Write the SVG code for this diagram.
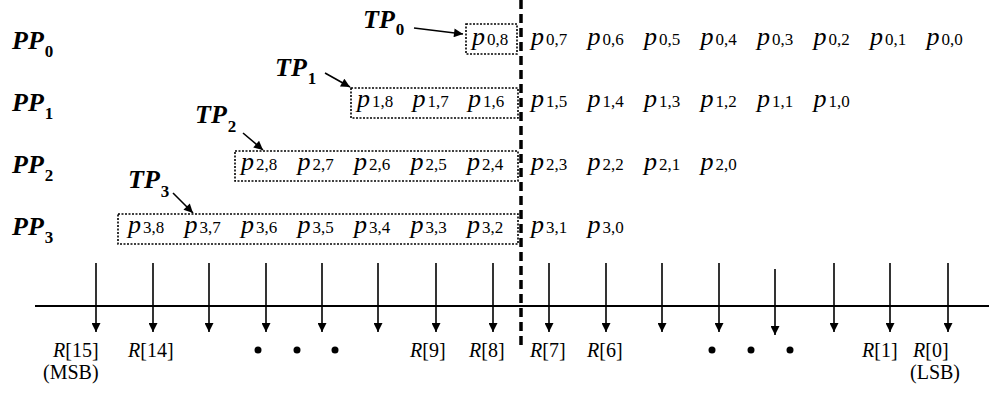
<svg xmlns="http://www.w3.org/2000/svg" width="989" height="417" viewBox="0 0 989 417" font-family="Liberation Serif">
<style>
text{font-family:'Liberation Serif','Times New Roman',serif;fill:#000}
.lbl{font-size:26px;font-weight:bold;font-style:italic}
.lsub{font-size:17px;font-weight:bold;font-style:normal}
.p{font-size:26px;font-style:italic}
.ps{font-size:17px;font-style:normal}
.r{font-size:20px}
.ri{font-style:italic}
.box{fill:none;stroke:#000;stroke-width:1.6;stroke-dasharray:2 1.5}
.ln{stroke:#000;stroke-width:1.6;fill:none}
.bus{stroke:#000;stroke-width:2;fill:none}
.div{stroke:#000;stroke-width:3.5;stroke-dasharray:9 5;fill:none}
</style>
<defs>
<marker id="ah" viewBox="0 0 10 10" refX="10" refY="5" markerWidth="10" markerHeight="9" markerUnits="userSpaceOnUse" orient="auto">
<path d="M0,0 L10,5 L0,10 z" fill="#000"/>
</marker>
<marker id="av" viewBox="0 0 10 10" refX="10" refY="5" markerWidth="11" markerHeight="9" markerUnits="userSpaceOnUse" orient="auto">
<path d="M0,0 L10,5 L0,10 z" fill="#000"/>
</marker>
</defs>
<rect width="989" height="417" fill="#fff"/>

<g id="divider"><line class="div" x1="521" y1="0" x2="521" y2="350"/></g>

<g id="row0">
<text class="lbl" x="12" y="49">PP<tspan class="lsub" dx="1" y="57">0</tspan></text>
<rect class="box" x="466" y="24" width="51" height="30"/>
<text class="p" y="45"><tspan x="472">p</tspan><tspan class="ps" x="487">0,8</tspan><tspan x="531">p</tspan><tspan class="ps" x="546">0,7</tspan><tspan x="587.5">p</tspan><tspan class="ps" x="602.5">0,6</tspan><tspan x="644">p</tspan><tspan class="ps" x="659">0,5</tspan><tspan x="700.5">p</tspan><tspan class="ps" x="715.5">0,4</tspan><tspan x="757">p</tspan><tspan class="ps" x="772">0,3</tspan><tspan x="813.5">p</tspan><tspan class="ps" x="828.5">0,2</tspan><tspan x="870">p</tspan><tspan class="ps" x="885">0,1</tspan><tspan x="926.5">p</tspan><tspan class="ps" x="941.5">0,0</tspan></text>
</g>

<g id="row1">
<text class="lbl" x="12" y="111">PP<tspan class="lsub" dx="1" y="119">1</tspan></text>
<rect class="box" x="351" y="88" width="167" height="30"/>
<text class="p" y="107"><tspan x="357">p</tspan><tspan class="ps" x="372">1,8</tspan><tspan x="412.5">p</tspan><tspan class="ps" x="427.5">1,7</tspan><tspan x="468">p</tspan><tspan class="ps" x="483">1,6</tspan><tspan x="531">p</tspan><tspan class="ps" x="546">1,5</tspan><tspan x="587.5">p</tspan><tspan class="ps" x="602.5">1,4</tspan><tspan x="644">p</tspan><tspan class="ps" x="659">1,3</tspan><tspan x="700.5">p</tspan><tspan class="ps" x="715.5">1,2</tspan><tspan x="757">p</tspan><tspan class="ps" x="772">1,1</tspan><tspan x="813.5">p</tspan><tspan class="ps" x="828.5">1,0</tspan></text>
</g>

<g id="row2">
<text class="lbl" x="12" y="173">PP<tspan class="lsub" dx="1" y="181">2</tspan></text>
<rect class="box" x="235" y="151" width="283" height="30"/>
<text class="p" y="170"><tspan x="241">p</tspan><tspan class="ps" x="256">2,8</tspan><tspan x="297.5">p</tspan><tspan class="ps" x="312.5">2,7</tspan><tspan x="354">p</tspan><tspan class="ps" x="369">2,6</tspan><tspan x="410.5">p</tspan><tspan class="ps" x="425.5">2,5</tspan><tspan x="467">p</tspan><tspan class="ps" x="482">2,4</tspan><tspan x="531">p</tspan><tspan class="ps" x="546">2,3</tspan><tspan x="587.5">p</tspan><tspan class="ps" x="602.5">2,2</tspan><tspan x="644">p</tspan><tspan class="ps" x="659">2,1</tspan><tspan x="700.5">p</tspan><tspan class="ps" x="715.5">2,0</tspan></text>
</g>

<g id="row3">
<text class="lbl" x="12" y="235">PP<tspan class="lsub" dx="1" y="243">3</tspan></text>
<rect class="box" x="118" y="214" width="400" height="30"/>
<text class="p" y="233"><tspan x="128">p</tspan><tspan class="ps" x="143">3,8</tspan><tspan x="184.5">p</tspan><tspan class="ps" x="199.5">3,7</tspan><tspan x="241">p</tspan><tspan class="ps" x="256">3,6</tspan><tspan x="297.5">p</tspan><tspan class="ps" x="312.5">3,5</tspan><tspan x="354">p</tspan><tspan class="ps" x="369">3,4</tspan><tspan x="410.5">p</tspan><tspan class="ps" x="425.5">3,3</tspan><tspan x="467">p</tspan><tspan class="ps" x="482">3,2</tspan><tspan x="531">p</tspan><tspan class="ps" x="546">3,1</tspan><tspan x="587.5">p</tspan><tspan class="ps" x="602.5">3,0</tspan></text>
</g>

<g id="tp0"><text class="lbl" x="363" y="28">TP<tspan class="lsub" dx="1" y="35">0</tspan></text></g>
<g id="tp1"><text class="lbl" x="275" y="76">TP<tspan class="lsub" dx="1" y="84">1</tspan></text></g>
<g id="tp2"><text class="lbl" x="195" y="123">TP<tspan class="lsub" dx="1" y="132">2</tspan></text></g>
<g id="tp3"><text class="lbl" x="128" y="188">TP<tspan class="lsub" dx="1" y="197">3</tspan></text></g>

<g id="bus"><line class="bus" x1="35" y1="306" x2="989" y2="306"/></g>

<g id="connectors">
<line class="ln" x1="414" y1="28" x2="463" y2="34" marker-end="url(#ah)"/>
<line class="ln" x1="325" y1="73" x2="350" y2="87" marker-end="url(#ah)"/>
<line class="ln" x1="243" y1="133" x2="263" y2="150" marker-end="url(#ah)"/>
<line class="ln" x1="173" y1="193" x2="193" y2="213" marker-end="url(#ah)"/>
<line class="ln" x1="96" y1="263" x2="96" y2="332" marker-end="url(#av)"/>
<line class="ln" x1="153" y1="263" x2="153" y2="332" marker-end="url(#av)"/>
<line class="ln" x1="209" y1="263" x2="209" y2="332" marker-end="url(#av)"/>
<line class="ln" x1="266" y1="263" x2="266" y2="332" marker-end="url(#av)"/>
<line class="ln" x1="322" y1="263" x2="322" y2="332" marker-end="url(#av)"/>
<line class="ln" x1="378" y1="263" x2="378" y2="332" marker-end="url(#av)"/>
<line class="ln" x1="436" y1="263" x2="436" y2="332" marker-end="url(#av)"/>
<line class="ln" x1="493" y1="263" x2="493" y2="332" marker-end="url(#av)"/>
<line class="ln" x1="549" y1="263" x2="549" y2="332" marker-end="url(#av)"/>
<line class="ln" x1="606" y1="263" x2="606" y2="332" marker-end="url(#av)"/>
<line class="ln" x1="662" y1="263" x2="662" y2="332" marker-end="url(#av)"/>
<line class="ln" x1="719" y1="263" x2="719" y2="332" marker-end="url(#av)"/>
<line class="ln" x1="775" y1="269" x2="775" y2="335" marker-end="url(#av)"/>
<line class="ln" x1="834" y1="263" x2="834" y2="332" marker-end="url(#av)"/>
<line class="ln" x1="890" y1="263" x2="890" y2="332" marker-end="url(#av)"/>
<line class="ln" x1="948" y1="263" x2="948" y2="332" marker-end="url(#av)"/>
</g>

<g id="results">
<text class="r" x="53" y="357"><tspan class="ri">R</tspan>[15]</text>
<text class="r" x="43" y="379">(MSB)</text>
<text class="r" x="128" y="357"><tspan class="ri">R</tspan>[14]</text>
<circle cx="258" cy="350" r="3.5"/><circle cx="297" cy="350" r="3.5"/><circle cx="335" cy="350" r="3.5"/>
<text class="r" x="410" y="357"><tspan class="ri">R</tspan>[9]</text>
<text class="r" x="469" y="357"><tspan class="ri">R</tspan>[8]</text>
<text class="r" x="530" y="357"><tspan class="ri">R</tspan>[7]</text>
<text class="r" x="587" y="357"><tspan class="ri">R</tspan>[6]</text>
<circle cx="712" cy="350" r="3.5"/><circle cx="751" cy="350" r="3.5"/><circle cx="790" cy="350" r="3.5"/>
<text class="r" x="862" y="357"><tspan class="ri">R</tspan>[1]</text>
<text class="r" x="913" y="357"><tspan class="ri">R</tspan>[0]</text>
<text class="r" x="910" y="379">(LSB)</text>
</g>
</svg>
